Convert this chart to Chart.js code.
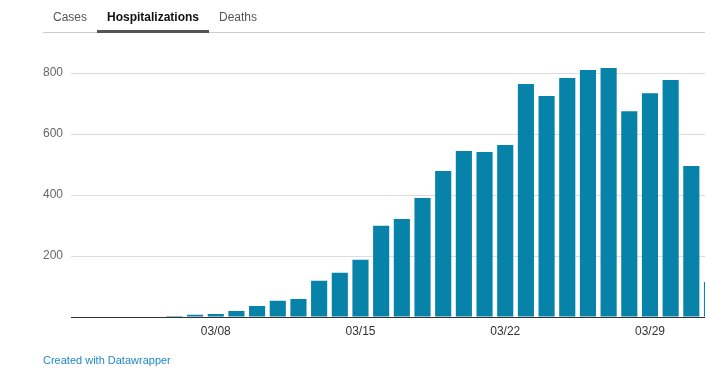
<!DOCTYPE html>
<html>
<head>
<meta charset="utf-8">
<script src="https://cdn.jsdelivr.net/npm/chart.js@4"></script>
<style>
    html, body { margin: 0; padding: 0; width: 705px; height: 373px; overflow: hidden; background: #fff; font-family: "Liberation Sans", Arial, sans-serif; }
    #chart { position: absolute; left: 0; top: 0; }
    .tabs { position: absolute; left: 43px; top: 0; right: 0; height: 32px; border-bottom: 1px solid #ccc; }
    .tab { position: absolute; top: 10px; font-size: 12px; color: #555; line-height: 14px; }
    .tab.active { color: #111; font-weight: bold; }
    .tab-bar { position: absolute; left: 54px; width: 112px; top: 30px; height: 3px; background: #555; }
    .credit { position: absolute; left: 43px; top: 354px; font-size: 11px; color: #1d88c8; }
</style>
</head>
<body>
<canvas id="chart" width="720" height="373"></canvas>
<div class="tabs">
    <div class="tab" style="left:10px">Cases</div>
    <div class="tab active" style="left:64px">Hospitalizations</div>
    <div class="tab" style="left:176px">Deaths</div>
    <div class="tab-bar"></div>
</div>
<div class="credit">Created with Datawrapper</div>
<script>
// Daily hospitalizations, 03/01 - 04/01
const days = ['03/01', '03/02', '03/03', '03/04', '03/05', '03/06', '03/07', '03/08',
    '03/09', '03/10', '03/11', '03/12', '03/13', '03/14', '03/15', '03/16',
    '03/17', '03/18', '03/19', '03/20', '03/21', '03/22', '03/23', '03/24',
    '03/25', '03/26', '03/27', '03/28', '03/29', '03/30', '03/31', '04/01'];
const hospitalizations = [0, 0, 0, 0, 0, 3, 7, 10,
    20, 36, 53, 59, 119, 145, 188, 299,
    321, 390, 479, 544, 541, 564, 764, 725,
    784, 810, 816, 675, 734, 777, 495, 115];
const dayTicks = ['03/08', '03/15', '03/22', '03/29'];
const valueTicks = [200, 400, 600, 800];

const ctx = document.getElementById('chart').getContext('2d');
new Chart(ctx, {
    type: 'bar',
    data: {
        labels: days,
        datasets: [{
            data: hospitalizations,
            backgroundColor: '#0782a8',
            barPercentage: 0.78,
            categoryPercentage: 1
        }]
    },
    options: {
        responsive: false,
        animation: false,
        devicePixelRatio: 1,
        layout: { padding: { top: 42.5, right: 8, bottom: 26, left: 0 } },
        plugins: { legend: { display: false }, tooltip: { enabled: false } },
        scales: {
            x: {
                offset: false,
                grid: { display: false, drawTicks: false },
                border: { display: true, color: '#333', width: 1 },
                ticks: {
                    autoSkip: false,
                    maxRotation: 0,
                    padding: 7,
                    color: '#333',
                    font: { family: 'Liberation Sans', size: 12 },
                    callback: function(value) {
                        const label = this.getLabelForValue(value);
                        return dayTicks.includes(label) ? label : '';
                    }
                },
                afterFit: scale => { scale.height = 30; }
            },
            y: {
                min: 0,
                max: 900,
                ticks: {
                    stepSize: 200,
                    padding: 8,
                    color: '#666',
                    font: { family: 'Liberation Sans', size: 12 },
                    callback: value => valueTicks.includes(value) ? value : ''
                },
                grid: {
                    drawTicks: false,
                    color: c => valueTicks.includes(c.tick.value) ? '#dcdcdc' : 'rgba(0,0,0,0)'
                },
                border: { display: false },
                afterFit: scale => { scale.width = 71; }
            }
        }
    }
});
</script>
</body>
</html>
